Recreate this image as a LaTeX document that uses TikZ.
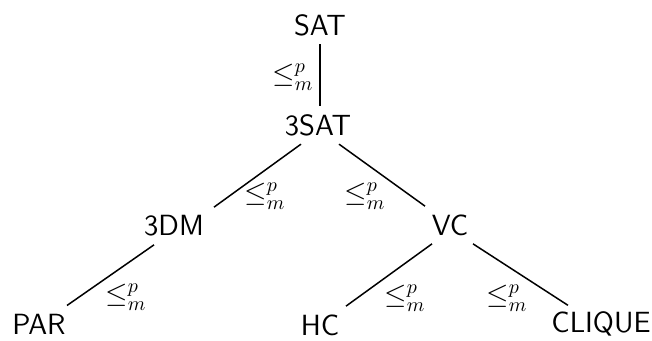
\documentclass[tikz,border=0pt]{standalone}
\begin{document}
\begin{tikzpicture}[x=0.5pt,y=-0.5pt,
  prob/.style={font=\fontsize{14.6}{17}\sffamily, inner sep=4pt},
  red/.style={font=\fontsize{14.4}{17}\selectfont, inner sep=0pt},
  link/.style={line width=0.75pt}]
\useasboundingbox (0,0) rectangle (652,341);
% problems
\node[prob] (sat)    at (320,25)  {SAT};
\node[prob] (tsat)   at (318,125) {3SAT};
\node[prob] (tdm)    at (174,226) {3DM};
\node[prob] (vc)     at (450,225) {VC};
\node[prob] (par)    at (39,324)  {PAR};
\node[prob] (hc)     at (320,325) {HC};
\node[prob] (clique) at (601,324) {CLIQUE};
% reductions
\draw[link] (sat.south) -- (sat.south |- tsat.north);
\draw[link] ([xshift=-8.5pt]tsat.south) -- ([xshift=20pt]tdm.north);
\draw[link] ([xshift=10.5pt]tsat.south) -- ([xshift=-12.5pt]vc.north);
\draw[link] ([xshift=-10pt]tdm.south) -- ([xshift=14pt]par.north);
\draw[link] ([xshift=-9pt]vc.south) -- ([xshift=13pt]hc.north);
\draw[link] ([xshift=11.5pt]vc.south) -- ([xshift=-16.5pt,yshift=-1pt]clique.north);
% reduction labels
\node[red] (r1) at (293,77)  {$\leq_m^p$};
\node[red] (r2) at (265,196) {$\leq_m^p$};
\node[red] (r3) at (365,196) {$\leq_m^p$};
\node[red] (r4) at (126,297) {$\leq_m^p$};
\node[red] (r5) at (405,298) {$\leq_m^p$};
\node[red] (r6) at (507,298) {$\leq_m^p$};
\end{tikzpicture}
\end{document}
